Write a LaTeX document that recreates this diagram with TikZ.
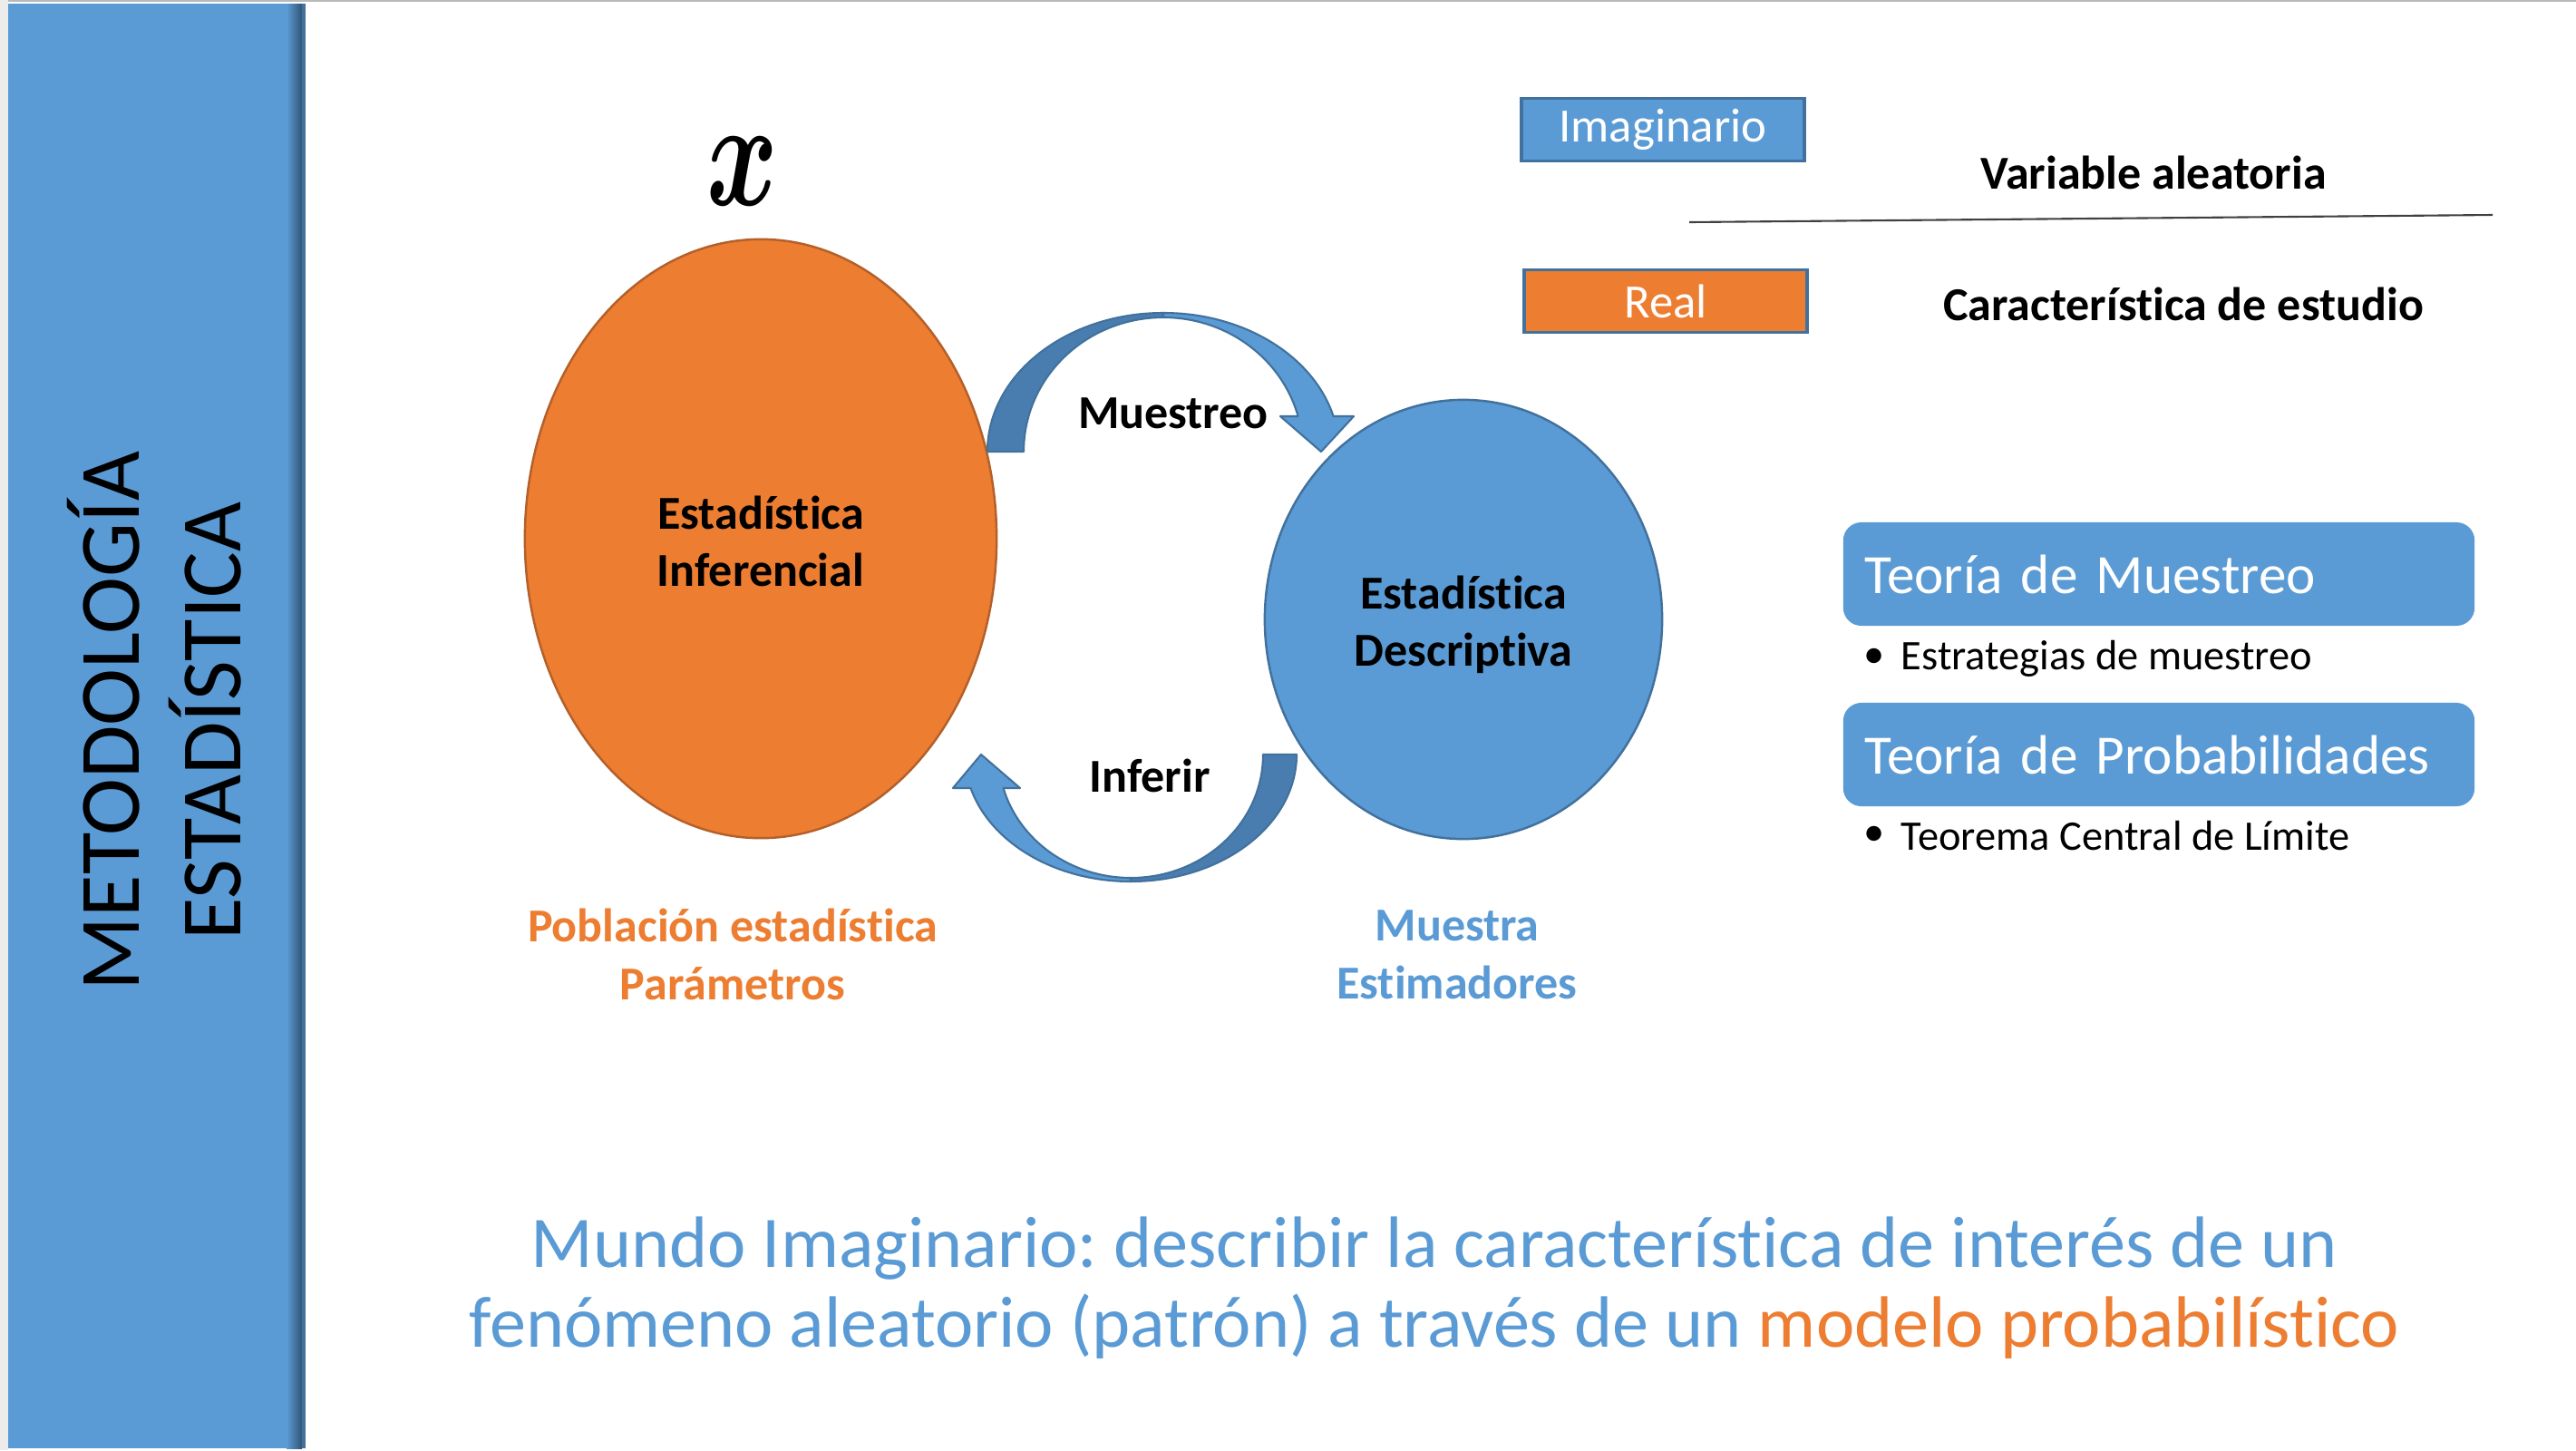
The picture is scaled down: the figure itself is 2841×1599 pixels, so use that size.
\documentclass[tikz,border=0pt]{standalone}
\usepackage{fontspec}
\setmainfont{Carlito}[Ligatures={NoCommon}]
\usepackage{graphicx}
\usetikzlibrary{shapes.geometric}
\definecolor{blu}{HTML}{5B9BD5}
\definecolor{bluedge}{HTML}{41719C}
\definecolor{bludark}{HTML}{4A7DAF}
\definecolor{ora}{HTML}{ED7D31}
\definecolor{oraedge}{HTML}{B3602A}
\newcommand\myfs[2]{\fontsize{#1}{#2}\selectfont}
\frenchspacing
\begin{document}
\begin{tikzpicture}[x=0.01cm,y=-0.01cm,
  lbl/.style={font=\bfseries\myfs{14.8}{17.9}, align=center, inner sep=0pt},
  legbox/.style={draw=bluedge, line width=1.1pt, minimum width=3.12cm, minimum height=0.69cm, inner sep=0pt, text=white, font=\myfs{15}{18}},
  theobox/.style={fill=blu, rounded corners=0.2cm, minimum width=6.96cm, minimum height=1.14cm, text width=6.48cm, inner xsep=0.24cm, inner ysep=0pt, align=left, text=white, font=\myfs{17.4}{20}},
  bul/.style={font=\myfs{13.2}{16}, inner sep=0pt, anchor=west},
  arr/.style={draw=bluedge, line width=0.6pt, line join=round}]
\useasboundingbox (0,0) rectangle (2841,1599);
\fill[white] (0,0) rectangle (2841,1599);
\fill[gray!15] (0,0) rectangle (9,1599);
\draw[gray!55, line width=0.6pt] (9,1) -- (2841,1);
% sidebar
\fill[blu] (9,4) rectangle (337,1597);
\shade[left color=blu, right color=bluedge!75!black] (316,4) rectangle (333,1597);
\fill[bluedge] (333,4) rectangle (337,1597);
\node[rotate=90, align=center, font=\myfs{27}{31.9}, inner sep=0pt] (side) at (170,795) {METODOLOGÍA\\ESTADÍSTICA};
% variable x
\node (xvar) at (819,189) {\scalebox{3.4}[4.8]{\boldmath$x$}};
% ellipses
\node[ellipse, draw=oraedge, fill=ora, line width=0.7pt, minimum width=5.2cm, minimum height=6.6cm, inner sep=0pt] (pob) at (839,594) {};
\node[lbl] (pobt) at (839,597) {Estadística\\Inferencial};
\node[ellipse, draw=bluedge, fill=blu, line width=0.7pt, minimum width=4.38cm, minimum height=4.84cm, inner sep=0pt] (mues) at (1614,683) {};
\node[lbl] (muest) at (1614,689) {Estadística\\Descriptiva};
% Muestreo arrow (centre 1283,498)
\coordinate (c1) at (1283,498);
\filldraw[arr, fill=bludark] (1089,498) arc[start angle=180, end angle=270, x radius=194, y radius=153]
  -- (1283,350) arc[start angle=270, end angle=180, x radius=154, y radius=148] -- cycle;
\filldraw[arr, fill=blu] (1283,345) arc[start angle=270, end angle=345.23, x radius=194, y radius=153]
  -- (1493,459) -- (1457,498) -- (1412,459) -- (1431.6,459)
  arc[start angle=344.72, end angle=270, x radius=154, y radius=148] -- cycle;
\node[lbl] (muestreo) at (1294,456) {Muestreo};
% Inferir arrow (centre 1247,832)
\coordinate (c2) at (1247,832);
\filldraw[arr, fill=bludark] (1430,832) arc[start angle=0, end angle=90, x radius=183, y radius=140]
  -- (1247,968) arc[start angle=90, end angle=0, x radius=146, y radius=136] -- cycle;
\filldraw[arr, fill=blu] (1247,972) arc[start angle=90, end angle=164.68, x radius=183, y radius=140]
  -- (1051,869) -- (1082,832) -- (1125,869) -- (1106.5,869)
  arc[start angle=164.21, end angle=90, x radius=146, y radius=136] -- cycle;
\node[lbl] (inferir) at (1268,855) {Inferir};
% captions
\node[lbl, text=ora, font=\bfseries\myfs{14.8}{18.2}] (pobl) at (808,1052) {Población estadística\\Parámetros};
\node[lbl, text=blu, font=\bfseries\myfs{14.8}{18.2}] (muestra) at (1607,1053) {Muestra\\Estimadores};
% legend
\node[legbox, fill=blu] (imag) at (1834,143) {\raisebox{-2pt}{Imaginario}};
\node[legbox, fill=ora] (real) at (1837,332) {Real};
\coordinate (la) at (1863,245);
\coordinate (lb) at (2749,237);
\draw[black!75, line width=0.6pt] (la) -- (lb);
\node[lbl] (varal) at (2375,190) {Variable aleatoria};
\node[lbl] (carac) at (2408,335) {Característica de estudio};
% theory boxes
\node[theobox] (tmu) at (2381,633) {Teoría de Muestreo};
\node[bul] (b1) at (2055,726) {•};
\node[bul] (b1t) at (2096,726) {Estrategias de muestreo};
\node[theobox] (tpr) at (2381,832) {Teoría de Probabilidades};
\node[bul] (b2) at (2055,922) {•};
\node[bul] (b2t) at (2096,922) {Teorema Central de Límite};
% bottom text
\node[align=center, text=blu, font=\myfs{22.8}{24.8}, inner sep=0pt] (bottom) at (1582,1420)
  {Mundo Imaginario: describir la característica de interés de un\\fenómeno aleatorio (patrón) a través de un \textcolor{ora}{modelo probabilístico}};
\end{tikzpicture}
\end{document}
